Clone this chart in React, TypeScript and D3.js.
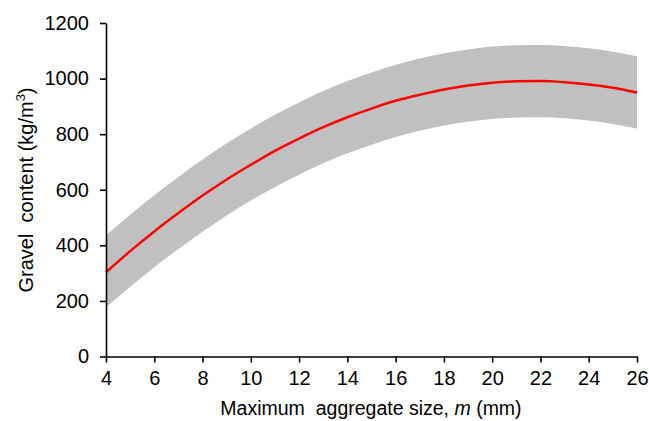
import { useRef, useEffect } from 'react';
import * as d3 from 'd3';

// Maximum aggregate size m (mm)
const sizes = [4, 5, 6, 7, 8, 9, 10, 11, 12, 13, 14, 15, 16, 17, 18, 19, 20, 21, 22, 23, 24, 25, 26];
// Gravel content estimate (kg/m3)
const gravel = [303, 379, 450, 516, 579, 637, 690, 740, 784, 825, 861, 892, 920, 942, 961, 975, 985, 990, 991, 987, 979, 967, 950];
// band bounds
const upper = [435, 510, 580, 646, 709, 767, 820, 870, 914, 955, 991, 1022, 1050, 1072, 1091, 1105, 1115, 1120, 1121, 1117, 1109, 1097, 1080];
const lower = [177, 250, 321, 387, 449, 507, 561, 610, 654, 695, 731, 762, 790, 812, 831, 845, 855, 860, 861, 857, 849, 837, 820];

const xTicks = [4, 6, 8, 10, 12, 14, 16, 18, 20, 22, 24, 26];
const yTicks = [0, 200, 400, 600, 800, 1000, 1200];

const W = 649;
const H = 421;
const FONT = '"Liberation Sans", Arial, sans-serif';

export default function App() {
  const ref = useRef<SVGSVGElement>(null);

  useEffect(() => {
    const svg = d3.select(ref.current);
    svg.selectAll('*').remove();

    const x = d3.scaleLinear().domain([4, 26]).range([106, 637]);
    const y = d3.scaleLinear().domain([0, 1200]).range([356.5, 23]);

    const rows = sizes.map((s, i) => ({ s, v: gravel[i], hi: upper[i], lo: lower[i] }));

    // grey band
    const area = d3.area<typeof rows[0]>()
      .x(d => x(d.s))
      .y0(d => y(d.lo))
      .y1(d => y(d.hi))
      .curve(d3.curveMonotoneX);
    svg.append('path').attr('d', area(rows)).attr('fill', '#c0c0c0');

    // red line
    const line = d3.line<typeof rows[0]>()
      .x(d => x(d.s))
      .y(d => y(d.v))
      .curve(d3.curveMonotoneX);
    svg.append('path').attr('d', line(rows))
      .attr('fill', 'none').attr('stroke', '#ff0000').attr('stroke-width', 2.5);

    // axes
    const gx = svg.append('g').attr('transform', `translate(0,${y(0)})`)
      .call(d3.axisBottom(x).tickValues(xTicks).tickFormat(d3.format('d')).tickSize(6).tickSizeOuter(0).tickPadding(8));
    const gy = svg.append('g').attr('transform', `translate(${x(4)},0)`)
      .call(d3.axisLeft(y).tickValues(yTicks).tickFormat(d3.format('d')).tickSize(6).tickSizeOuter(0).tickPadding(11));
    [gx, gy].forEach(g => {
      g.selectAll('.domain').attr('stroke', '#000').attr('stroke-width', 1.6);
      g.selectAll('.tick line').attr('stroke', '#000').attr('stroke-width', 1.6);
      g.selectAll('text').attr('font-family', FONT).attr('font-size', 20).attr('fill', '#000');
    });

    // axis titles
    const xt = svg.append('text')
      .attr('x', 371).attr('y', 415)
      .attr('text-anchor', 'middle')
      .attr('font-family', FONT).attr('font-size', 19.5)
      .style('white-space', 'pre');
    xt.append('tspan').text('Maximum  aggregate size, ');
    xt.append('tspan').attr('font-style', 'italic').text('m');
    xt.append('tspan').text(' (mm)');

    const yt = svg.append('text')
      .attr('transform', 'translate(33,190) rotate(-90)')
      .attr('text-anchor', 'middle')
      .attr('font-family', FONT).attr('font-size', 20)
      .style('white-space', 'pre');
    yt.append('tspan').text('Gravel  content (kg/m');
    yt.append('tspan').attr('font-size', 13).attr('dy', -8).text('3');
    yt.append('tspan').attr('dy', 8).text(')');
  }, []);

  return (
    <svg ref={ref} width={W} height={H}
      style={{ position: 'absolute', left: 0, top: 0, background: '#fff' }} />
  );
}
